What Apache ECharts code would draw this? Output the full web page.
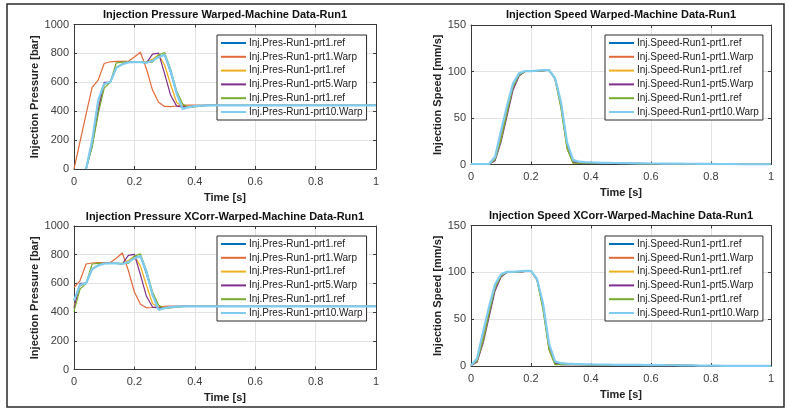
<!DOCTYPE html>
<html>
<head>
<meta charset="utf-8">
<script src="https://cdn.jsdelivr.net/npm/echarts@6/dist/echarts.min.js"></script>
<style>html,body{margin:0;padding:0;background:#fff;}#c{width:788px;height:413px;}</style>
</head>
<body>
<div id="c"></div>
<script>
const time = [0,0.02,0.04,0.06,0.08,0.1,0.12,0.14,0.16,0.18,0.2,0.22,0.24,0.26,0.28,0.3,0.32,0.34,0.36,0.38,0.4,0.42,0.44,0.46,0.48,0.5,0.52,0.54,0.56,0.58,0.6,0.62,0.64,0.66,0.68,0.7,0.72,0.74,0.76,0.78,0.8,0.82,0.84,0.86,0.88,0.9,0.92,0.94,0.96,0.98,1];

const titles = ['Injection Pressure Warped-Machine Data-Run1','Injection Speed Warped-Machine Data-Run1','Injection Pressure XCorr-Warped-Machine Data-Run1','Injection Speed XCorr-Warped-Machine Data-Run1'];
const presNames = ['Inj.Pres-Run1-prt1.ref','Inj.Pres-Run1-prt1.Warp','Inj.Pres-Run1-prt1.ref','Inj.Pres-Run1-prt5.Warp','Inj.Pres-Run1-prt1.ref','Inj.Pres-Run1-prt10.Warp'];
const speedNames = ['Inj.Speed-Run1-prt1.ref','Inj.Speed-Run1-prt1.Warp','Inj.Speed-Run1-prt1.ref','Inj.Speed-Run1-prt5.Warp','Inj.Speed-Run1-prt1.ref','Inj.Speed-Run1-prt10.Warp'];
const xName = 'Time [s]';
const presAxisName = 'Injection Pressure [bar]';
const speedAxisName = 'Injection Speed [mm/s]';
const xTicks = [0,0.2,0.4,0.6,0.8,1];
const presTicks = [0,200,400,600,800,1000];
const speedTicks = [0,50,100,150];

// Top-left: pressure, warped
const presTopRef1 = [null,null,0,190,470,590,600,700,725,740,
 740,740,737,748,780,790,665,525,420,428,
 435,438,440,440,440,440,440,440,440,440,
 440,440,440,440,440,440,440,440,440,440,
 440,440,440,440,440,440,440,440,440,440,
 440];
const presTopWarp1 = [0,190,380,565,615,730,742,745,745,745,
 775,808,692,546,462,433,432,436,440,442,
 442,442,442,442,442,442,442,442,442,442,
 442,442,442,442,442,442,442,442,442,442,
 442,442,442,442,442,442,442,442,442,442,
 442];
const presTopRef2 = [null,null,0,175,420,585,600,705,728,740,
 740,740,738,760,790,720,585,460,432,433,
 436,438,440,440,440,440,440,440,440,440,
 440,440,440,440,440,440,440,440,440,440,
 440,440,440,440,440,440,440,440,440,440,
 440];
const presTopWarp5 = [null,null,0,160,400,600,600,700,725,740,
 740,740,735,795,802,660,510,435,430,432,
 435,438,440,440,440,440,440,440,440,440,
 440,440,440,440,440,440,440,440,440,440,
 440,440,440,440,440,440,440,440,440,440,
 440];
const presTopRef3 = [null,null,0,150,380,560,600,735,740,740,
 740,740,740,740,790,806,690,540,450,425,
 430,435,438,440,440,440,440,440,440,440,
 440,440,440,440,440,440,440,440,440,440,
 440,440,440,440,440,440,440,440,440,440,
 440];
const presTopWarp10 = [null,null,0,195,475,590,600,700,725,738,
 740,740,735,748,775,790,680,520,415,428,
 435,438,440,440,440,440,440,440,440,440,
 440,440,440,440,440,440,440,440,440,440,
 440,440,440,440,440,440,440,440,440,440,
 440];

// Bottom-left: pressure, xcorr-warped
const presBotRef1 = [485,590,600,700,725,740,740,740,737,748,
 780,790,665,525,420,428,435,438,440,440,
 440,440,440,440,440,440,440,440,440,440,
 440,440,440,440,440,440,440,440,440,440,
 440,440,440,440,440,440,440,440,440,440,
 440];
const presBotWarp1 = [570,620,735,742,745,745,745,775,812,690,
 540,455,430,432,436,440,442,442,442,442,
 442,442,442,442,442,442,442,442,442,442,
 442,442,442,442,442,442,442,442,442,442,
 442,442,442,442,442,442,442,442,442,442,
 442];
const presBotRef2 = [440,585,600,705,728,740,740,740,738,760,
 790,720,585,460,432,433,436,438,440,440,
 440,440,440,440,440,440,440,440,440,440,
 440,440,440,440,440,440,440,440,440,440,
 440,440,440,440,440,440,440,440,440,440,
 440];
const presBotWarp5 = [425,600,600,700,725,740,740,740,735,795,
 802,660,510,435,430,432,435,438,440,440,
 440,440,440,440,440,440,440,440,440,440,
 440,440,440,440,440,440,440,440,440,440,
 440,440,440,440,440,440,440,440,440,440,
 440];
const presBotRef3 = [405,560,600,735,740,740,740,740,740,740,
 790,806,690,540,450,425,430,435,438,440,
 440,440,440,440,440,440,440,440,440,440,
 440,440,440,440,440,440,440,440,440,440,
 440,440,440,440,440,440,440,440,440,440,
 440];
const presBotWarp10 = [480,590,600,700,725,738,740,740,735,748,
 775,790,680,520,415,428,435,438,440,440,
 440,440,440,440,440,440,440,440,440,440,
 440,440,440,440,440,440,440,440,440,440,
 440,440,440,440,440,440,440,440,440,440,
 440];

// Top-right: speed, warped
const speedTopRef1 = [0.5,0.5,0.5,0.5,6,30,58,84,97,100,
 100.5,100.5,101,101.5,92,64,20,3,2,2,
 1.8,1.7,1.6,1.5,1.5,1.4,1.3,1.2,1.2,1.1,
 1,1,1,0.9,0.9,0.8,0.8,0.8,0.7,0.7,
 0.6,0.5,0.4,0.3,0.3,0.2,0.2,0.2,0.2,0.2,
 0.2];
const speedTopWarp1 = [0.5,0.5,0.5,0.5,5,28,56,83,96,100,
 100.5,100.5,101,101.5,92,63,19,2,1.8,1.8,
 1.7,1.6,1.5,1.5,1.4,1.3,1.3,1.2,1.1,1.1,
 1,1,1,0.9,0.9,0.9,0.9,0.9,0.9,0.8,
 0.5,0.3,0.2,0.2,0.2,0.2,0.2,0.2,0.2,0.2,
 0.2];
const speedTopRef2 = [0.5,0.5,0.5,0.5,5,27,55,82,96,100,
 100.5,100.5,101,101.5,92,62,18,2,1.8,1.8,
 1.7,1.6,1.5,1.4,1.4,1.3,1.2,1.2,1.1,1.0,
 1,1,0.9,0.9,0.8,0.8,0.8,0.7,0.7,0.6,
 0.6,0.5,0.4,0.3,0.3,0.2,0.2,0.2,0.2,0.2,
 0.2];
const speedTopWarp5 = [0.5,0.5,0.5,0.5,4,24,52,80,95,100,
 100.5,100.5,101,101.5,93,66,22,2.5,1.5,1.5,
 1.5,1.4,1.4,1.3,1.3,1.2,1.2,1.1,1.1,1.0,
 1,0.9,0.9,0.9,0.8,0.8,0.8,0.7,0.7,0.6,
 0.5,0.4,0.3,0.2,0.2,0.2,0.2,0.2,0.2,0.2,
 0.2];
const speedTopRef3 = [0.5,0.5,0.5,0.5,5,26,55,83,96,100,
 100.5,100.5,101,101.5,92,60,17,1.5,1.5,1.5,
 1.5,1.4,1.3,1.3,1.2,1.2,1.1,1.1,1.0,1.0,
 1,0.9,0.9,0.9,0.8,0.8,0.7,0.7,0.7,0.6,
 0.6,0.5,0.4,0.3,0.3,0.2,0.2,0.2,0.2,0.2,
 0.2];
const speedTopWarp10 = [0.5,0.5,0.5,0.5,8,36,63,87,98,100.5,
 100.5,101,101.5,101.5,93,67,24,5,3,2.5,
 2.2,2,1.8,1.7,1.6,1.5,1.4,1.3,1.2,1.2,
 1.1,1.1,1,1,0.9,0.9,0.8,0.8,0.7,0.7,
 0.6,0.5,0.4,0.3,0.3,0.2,0.2,0.2,0.2,0.2,
 0.2];

// Bottom-right: speed, xcorr-warped
const speedBotRef1 = [0.5,6,30,58,84,97,100,100.5,100.5,101,
 101.5,92,64,20,3,2,2,1.8,1.7,1.6,
 1.5,1.5,1.4,1.3,1.2,1.2,1.1,1,1,1,
 0.9,0.9,0.8,0.8,0.8,0.7,0.7,0.6,0.5,0.4,
 0.3,0.3,0.2,0.2,0.2,0.2,0.2,0.2,0.2,0.2,
 0.2];
const speedBotWarp1 = [0.5,5,28,56,83,96,100,100.5,100.5,101,
 101.5,92,63,19,2,1.8,1.8,1.7,1.6,1.5,
 1.5,1.4,1.3,1.3,1.2,1.1,1.1,1,1,1,
 0.9,0.9,0.9,0.9,0.9,0.9,0.8,0.5,0.3,0.2,
 0.2,0.2,0.2,0.2,0.2,0.2,0.2,0.2,0.2,0.2,
 0.2];
const speedBotRef2 = [0.5,5,27,55,82,96,100,100.5,100.5,101,
 101.5,92,62,18,2,1.8,1.8,1.7,1.6,1.5,
 1.4,1.4,1.3,1.2,1.2,1.1,1.0,1,1,0.9,
 0.9,0.8,0.8,0.8,0.7,0.7,0.6,0.6,0.5,0.4,
 0.3,0.3,0.2,0.2,0.2,0.2,0.2,0.2,0.2,0.2,
 0.2];
const speedBotWarp5 = [0.5,4,24,52,80,95,100,100.5,100.5,101,
 101.5,93,66,22,2.5,1.5,1.5,1.5,1.4,1.4,
 1.3,1.3,1.2,1.2,1.1,1.1,1.0,1,0.9,0.9,
 0.9,0.8,0.8,0.8,0.7,0.7,0.6,0.5,0.4,0.3,
 0.2,0.2,0.2,0.2,0.2,0.2,0.2,0.2,0.2,0.2,
 0.2];
const speedBotRef3 = [0.5,5,26,55,83,96,100,100.5,100.5,101,
 101.5,92,60,17,1.5,1.5,1.5,1.5,1.4,1.3,
 1.3,1.2,1.2,1.1,1.1,1.0,1.0,1,0.9,0.9,
 0.9,0.8,0.8,0.7,0.7,0.7,0.6,0.6,0.5,0.4,
 0.3,0.3,0.2,0.2,0.2,0.2,0.2,0.2,0.2,0.2,
 0.2];
const speedBotWarp10 = [0.5,8,36,63,87,98,100.5,100.5,101,101.5,
 101.5,93,67,24,5,3,2.5,2.2,2,1.8,
 1.7,1.6,1.5,1.4,1.3,1.2,1.2,1.1,1.1,1,
 1,0.9,0.9,0.8,0.8,0.7,0.7,0.6,0.5,0.4,
 0.3,0.3,0.2,0.2,0.2,0.2,0.2,0.2,0.2,0.2,
 0.2];

const FONT = 'Liberation Sans, Arial, Helvetica, sans-serif';
const colors = ['#0072BD','#E06A38','#EDB120','#7E2F8E','#77AC30','#7FCCF0'];
const widths = [1.2,1.2,1.3,1.2,1.2,2.2];

const panels = [
  {title: titles[0], names: presNames, yName: presAxisName, yTicks: presTicks,
   data: [presTopRef1,presTopWarp1,presTopRef2,presTopWarp5,presTopRef3,presTopWarp10],
   grid: {left:74, top:24.5, width:302, height:144.5}, titleTop: 9.5, nameGapY: 27,
   legend: {left:217, top:35}},
  {title: titles[1], names: speedNames, yName: speedAxisName, yTicks: speedTicks,
   data: [speedTopRef1,speedTopWarp1,speedTopRef2,speedTopWarp5,speedTopRef3,speedTopWarp10],
   grid: {left:471, top:25, width:300, height:139.5}, titleTop: 9.5, nameGapY: 25.5,
   legend: {left:605, top:35}},
  {title: titles[2], names: presNames, yName: presAxisName, yTicks: presTicks,
   data: [presBotRef1,presBotWarp1,presBotRef2,presBotWarp5,presBotRef3,presBotWarp10],
   grid: {left:74, top:226, width:302, height:143.5}, titleTop: 211, nameGapY: 27,
   legend: {left:217, top:236}},
  {title: titles[3], names: speedNames, yName: speedAxisName, yTicks: speedTicks,
   data: [speedBotRef1,speedBotWarp1,speedBotRef2,speedBotWarp5,speedBotRef3,speedBotWarp10],
   grid: {left:471, top:225.5, width:300, height:140.5}, titleTop: 210.5, nameGapY: 26.5,
   legend: {left:605, top:236}}
];

const option = {
  animation: false,
  backgroundColor: '#ffffff',
  title: [], grid: [], xAxis: [], yAxis: [], legend: [], series: [],
  graphic: [{
    type: 'rect', silent: true, z: 100,
    shape: {x: 7, y: 4, width: 777, height: 403},
    style: {fill: 'none', stroke: '#2a2a2a', lineWidth: 1.5}
  }]
};

const axisColor = '#3a3a3a';
const labelStyle = {color: '#3d3d3d', fontSize: 11, fontFamily: FONT};

panels.forEach((p, k) => {
  const g = p.grid;
  option.grid.push({left: g.left, top: g.top, width: g.width, height: g.height, containLabel: false,
                    show: false});
  option.title.push({text: p.title, left: g.left + g.width / 2, top: p.titleTop, textAlign: 'center', padding: 0,
    textStyle: {fontSize: 11, fontWeight: 'bold', color: '#111', fontFamily: FONT}});
  const yMax = p.yTicks[p.yTicks.length - 1];
  const yInt = p.yTicks[1] - p.yTicks[0];
  option.xAxis.push({type: 'value', gridIndex: k, min: xTicks[0], max: xTicks[xTicks.length - 1], interval: xTicks[1] - xTicks[0],
    name: xName, nameLocation: 'middle', nameGap: 23,
    nameTextStyle: {fontSize: 11, fontWeight: 'bold', color: '#222', fontFamily: FONT},
    axisLine: {show: true, onZero: false, lineStyle: {color: axisColor, width: 1}},
    axisTick: {show: true, inside: true, length: 3, lineStyle: {color: axisColor}},
    axisLabel: Object.assign({margin: 7, formatter: v => String(+v.toFixed(1))}, labelStyle),
    splitLine: {show: true, lineStyle: {color: '#e3e3e3', width: 1}}});
  option.xAxis.push({type: 'value', gridIndex: k, position: 'top', min: xTicks[0], max: xTicks[xTicks.length - 1], interval: xTicks[1] - xTicks[0],
    axisLine: {show: true, onZero: false, lineStyle: {color: axisColor, width: 1}},
    axisTick: {show: true, inside: true, length: 3, lineStyle: {color: axisColor}},
    axisLabel: {show: false}, splitLine: {show: false}});
  option.yAxis.push({type: 'value', gridIndex: k, min: p.yTicks[0], max: yMax, interval: yInt,
    name: p.yName, nameLocation: 'middle', nameGap: p.nameGapY,
    nameTextStyle: {fontSize: 11, fontWeight: 'bold', color: '#222', fontFamily: FONT},
    axisLine: {show: true, onZero: false, lineStyle: {color: axisColor, width: 1}},
    axisTick: {show: true, inside: true, length: 3, lineStyle: {color: axisColor}},
    axisLabel: Object.assign({margin: 5, formatter: v => String(v)}, labelStyle),
    splitLine: {show: true, lineStyle: {color: '#e3e3e3', width: 1}}});
  option.yAxis.push({type: 'value', gridIndex: k, position: 'right', min: p.yTicks[0], max: yMax, interval: yInt,
    axisLine: {show: true, onZero: false, lineStyle: {color: axisColor, width: 1}},
    axisTick: {show: true, inside: true, length: 3, lineStyle: {color: axisColor}},
    axisLabel: {show: false}, splitLine: {show: false}});

  const legendNames = [];
  p.data.forEach((arr, i) => {
    const nm = k + '|' + i + '|' + p.names[i];
    legendNames.push(nm);
    option.series.push({
      type: 'line', name: nm, xAxisIndex: 2 * k, yAxisIndex: 2 * k,
      data: time.map((t, j) => [t, arr[j]]),
      showSymbol: false, symbol: 'none', smooth: false, connectNulls: false,
      itemStyle: {color: colors[i]},
      lineStyle: {color: colors[i], width: widths[i]},
      z: 2 + i
    });
  });
  option.legend.push({
    left: p.legend.left, top: p.legend.top, orient: 'vertical',
    data: legendNames, selectedMode: false,
    icon: 'rect', itemWidth: 25, itemHeight: 2, itemGap: 1.8,
    padding: [2, 4, 2, 4],
    backgroundColor: '#ffffff', borderColor: '#2a2a2a', borderWidth: 1,
    formatter: n => n.split('|')[2],
    textStyle: {fontSize: 10, color: '#222', fontFamily: FONT, lineHeight: 12, padding: [0, 0, 0, -2]}
  });
});

const chart = echarts.init(document.getElementById('c'), null, {renderer: 'canvas'});
chart.setOption(option);
</script>
</body>
</html>
